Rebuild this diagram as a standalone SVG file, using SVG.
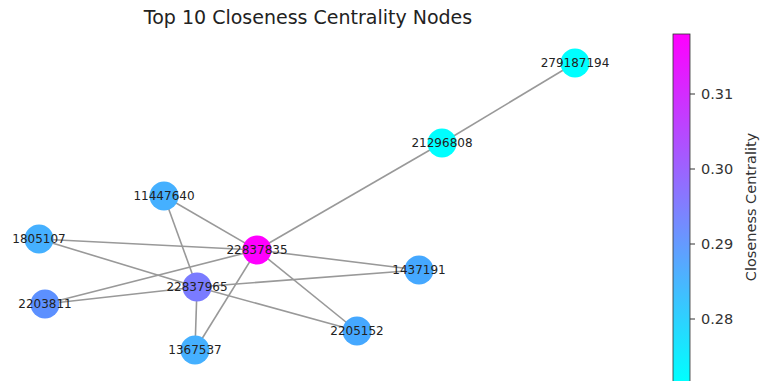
<svg xmlns="http://www.w3.org/2000/svg" width="760" height="381" viewBox="0 0 760 381">
<defs>
<linearGradient id="cool" x1="0" y1="34" x2="0" y2="381" gradientUnits="userSpaceOnUse">
<stop offset="0" stop-color="#ff00ff"/>
<stop offset="1" stop-color="#00ffff"/>
</linearGradient>
<style>
.edge{stroke:#999;stroke-width:1.6;fill:none}
.node circle{stroke:none}
.lbl{font-family:"DejaVu Sans",sans-serif;font-size:12px;fill:#222;text-anchor:middle;dominant-baseline:central}
.tick{font-family:"DejaVu Sans",sans-serif;font-size:14.5px;fill:#333;dominant-baseline:central}
</style>
</defs>
<rect width="760" height="381" fill="#fff"/>
<text x="308" y="24" font-family="DejaVu Sans, sans-serif" font-size="19" fill="#222" text-anchor="middle">Top 10 Closeness Centrality Nodes</text>
<g id="edges">
<line class="edge" x1="575" y1="63" x2="442" y2="143"/>
<line class="edge" x1="442" y1="143" x2="257" y2="250"/>
<line class="edge" x1="164" y1="196" x2="257" y2="250"/>
<line class="edge" x1="164" y1="196" x2="197" y2="287"/>
<line class="edge" x1="39" y1="239" x2="257" y2="250"/>
<line class="edge" x1="39" y1="239" x2="197" y2="287"/>
<line class="edge" x1="197" y1="287" x2="357" y2="331"/>
<line class="edge" x1="45" y1="304" x2="257" y2="250"/>
<line class="edge" x1="45" y1="304" x2="197" y2="287"/>
<line class="edge" x1="197" y1="287" x2="419" y2="270"/>
<line class="edge" x1="257" y1="250" x2="419" y2="270"/>
<line class="edge" x1="257" y1="250" x2="357" y2="331"/>
<line class="edge" x1="257" y1="250" x2="195" y2="350"/>
<line class="edge" x1="197" y1="287" x2="195" y2="350"/>
</g>
<g id="n279187194" class="node"><circle cx="575" cy="63" r="14.5" fill="#0ff"/><text class="lbl" x="575" y="63">279187194</text></g>
<g id="n21296808" class="node"><circle cx="442" cy="143" r="14.5" fill="#0ff"/><text class="lbl" x="442" y="143">21296808</text></g>
<g id="n11447640" class="node"><circle cx="164" cy="196" r="14.5" fill="#45b0ff"/><text class="lbl" x="164" y="196">11447640</text></g>
<g id="n1805107" class="node"><circle cx="39" cy="239" r="14.5" fill="#45b0ff"/><text class="lbl" x="39" y="239">1805107</text></g>
<g id="n22837835" class="node"><circle cx="257" cy="250" r="14.5" fill="#ff00ff"/><text class="lbl" x="257" y="250">22837835</text></g>
<g id="n1437191" class="node"><circle cx="419" cy="270" r="14.5" fill="#45a8ff"/><text class="lbl" x="419" y="270">1437191</text></g>
<g id="n22837965" class="node"><circle cx="197" cy="287" r="14.5" fill="#7a7bff"/><text class="lbl" x="197" y="287">22837965</text></g>
<g id="n2203811" class="node"><circle cx="45" cy="304" r="14.5" fill="#5c90ff"/><text class="lbl" x="45" y="304">2203811</text></g>
<g id="n2205152" class="node"><circle cx="357" cy="331" r="14.5" fill="#45a8ff"/><text class="lbl" x="357" y="331">2205152</text></g>
<g id="n1367537" class="node"><circle cx="195" cy="350" r="14.5" fill="#45b0ff"/><text class="lbl" x="195" y="350">1367537</text></g>
<g id="colorbar">
<rect x="673" y="34" width="17" height="360" fill="url(#cool)" stroke="#333" stroke-width="0.8"/>
<g stroke="#333" stroke-width="1">
<line x1="690" y1="94" x2="695" y2="94"/>
<line x1="690" y1="169" x2="695" y2="169"/>
<line x1="690" y1="244" x2="695" y2="244"/>
<line x1="690" y1="319" x2="695" y2="319"/>
</g>
<text class="tick" x="701" y="94">0.31</text>
<text class="tick" x="701" y="169">0.30</text>
<text class="tick" x="701" y="244">0.29</text>
<text class="tick" x="701" y="319">0.28</text>
<text x="751" y="207" transform="rotate(-90 751 207)" font-family="DejaVu Sans, sans-serif" font-size="14.5" fill="#333" text-anchor="middle" dominant-baseline="central">Closeness Centrality</text>
</g>
</svg>
